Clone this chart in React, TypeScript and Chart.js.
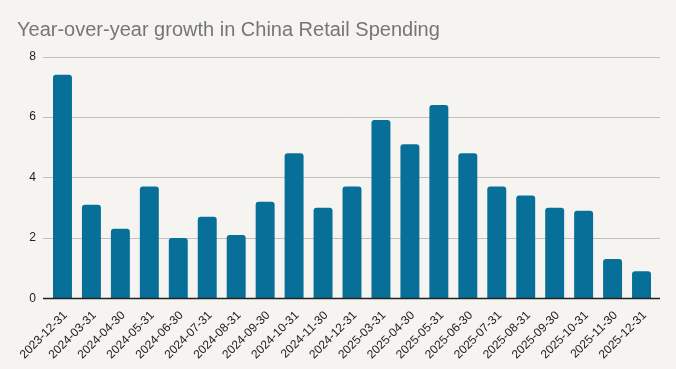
import React, { useEffect, useRef } from "react";
import { Chart, registerables } from "chart.js";

Chart.register(...registerables);

const categories = [
  "2023-12-31", "2024-03-31", "2024-04-30", "2024-05-31", "2024-06-30", "2024-07-31",
  "2024-08-31", "2024-09-30", "2024-10-31", "2024-11-30", "2024-12-31", "2025-03-31",
  "2025-04-30", "2025-05-31", "2025-06-30", "2025-07-31", "2025-08-31", "2025-09-30",
  "2025-10-31", "2025-11-30", "2025-12-31",
];
const growth = [7.4, 3.1, 2.3, 3.7, 2.0, 2.7, 2.1, 3.2, 4.8, 3.0, 3.7, 5.9, 5.1, 6.4, 4.8, 3.7, 3.4, 3.0, 2.9, 1.3, 0.9];
const yTicks = [0, 2, 4, 6, 8];
const titleText = "Year-over-year growth in China Retail Spending";

const gridPlugin = {
  id: "extGrid",
  beforeDatasetsDraw(chart: any) {
    const { ctx, chartArea, scales } = chart;
    ctx.save();
    ctx.strokeStyle = "#c2bfba";
    ctx.lineWidth = 1;
    for (const v of yTicks) {
      if (v === 0) continue;
      const y = Math.round(scales.y.getPixelForValue(v)) + 0.5;
      ctx.beginPath();
      ctx.moveTo(chartArea.left - 5, y);
      ctx.lineTo(chartArea.right + 4, y);
      ctx.stroke();
    }
    ctx.restore();
  },
  afterDatasetsDraw(chart: any) {
    const { ctx, chartArea, scales } = chart;
    ctx.save();
    ctx.strokeStyle = "#222";
    ctx.lineWidth = 1.5;
    const y = scales.y.getPixelForValue(0);
    ctx.beginPath();
    ctx.moveTo(chartArea.left - 5, y);
    ctx.lineTo(chartArea.right + 4, y);
    ctx.stroke();
    ctx.restore();
  },
};

export default function App() {
  const ref = useRef<HTMLCanvasElement>(null);
  useEffect(() => {
    document.body.style.margin = "0";
    document.body.style.background = "#f5f4f0";
    const chart = new Chart(ref.current!, {
      type: "bar",
      data: {
        labels: categories,
        datasets: [
          {
            data: growth,
            backgroundColor: "#087098",
            borderRadius: { topLeft: 3, topRight: 3, bottomLeft: 0, bottomRight: 0 },
            borderSkipped: "bottom",
            barPercentage: 0.655,
            categoryPercentage: 1,
          },
        ],
      },
      options: {
        animation: false,
        responsive: false,
        layout: { padding: { left: 17, right: 20, top: 8, bottom: 5 } },
        plugins: {
          legend: { display: false },
          tooltip: { enabled: false },
          title: {
            display: true,
            text: titleText,
            align: "start",
            color: "#767676",
            font: { family: "Liberation Sans, Arial, sans-serif", size: 20, weight: "normal" },
            padding: { top: 10, bottom: 14.5 },
          },
        },
        scales: {
          x: {
            grid: { display: false },
            border: { display: false },
            ticks: {
              color: "#222",
              font: { family: "Liberation Sans, Arial, sans-serif", size: 12 },
              maxRotation: 45,
              minRotation: 45,
              autoSkip: false,
              padding: 2,
              labelOffset: 3,
            },
          },
          y: {
            min: 0,
            max: 8,
            afterBuildTicks: (axis: any) => {
              axis.ticks = yTicks.map((v) => ({ value: v }));
            },
            afterFit: (axis: any) => {
              axis.width = 31;
            },
            grid: { display: false, drawTicks: true, tickLength: 5 },
            border: { display: false },
            ticks: {
              color: "#222",
              font: { family: "Liberation Sans, Arial, sans-serif", size: 12 },
              padding: 7,
            },
          },
        },
      },
      plugins: [gridPlugin],
    });
    return () => chart.destroy();
  }, []);
  return (
    <div style={{ width: 676, height: 369, background: "#f5f4f0" }}>
      <canvas ref={ref} width={676} height={369} style={{ display: "block" }} />
    </div>
  );
}
